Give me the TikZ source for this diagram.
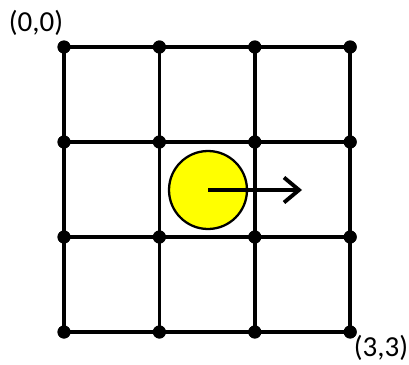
\documentclass[tikz,border=0pt]{standalone}
\usepackage{fontspec}
\setmainfont{Carlito}
\usetikzlibrary{arrows.meta}
\definecolor{Ball}{HTML}{FFFF00}
\tikzset{
  dot/.style={circle,fill=black,draw=none,minimum size=0.26cm,inner sep=0pt},
  gridline/.style={line width=2.1pt,draw=black},
  ball/.style={circle,fill=Ball,draw=black,line width=1.3pt,minimum size=1.56cm,inner sep=0pt},
  move/.style={-{Straight Barb[length=3mm,width=5mm,line width=2.2pt]},line width=2.2pt,draw=black},
  corner/.style={font=\fontsize{16.5}{19}\selectfont,inner sep=0pt}
}
\begin{document}
\begin{tikzpicture}[x=0.02cm,y=-0.02cm]
  \useasboundingbox (0,0) rectangle (409,365);
  % lattice points
  \foreach \i in {0,...,3}
    \foreach \j in {0,...,3}
      \node[dot] (d-\i-\j) at ({64+95.4*\i},{47+95*\j}) {};
  \foreach \k in {0,...,3} {
    \draw[gridline] (d-0-\k.center)--(d-3-\k.center);
    \draw[gridline] (d-\k-0.center)--(d-\k-3.center);
  }
  \foreach \i in {0,...,3}
    \foreach \j in {0,...,3}
      \node[dot] at (d-\i-\j) {};
  % agent and its heading
  \node[ball] (agent) at (208,190) {};
  \coordinate (head) at (302,190);
  \draw[move] (agent.center)--(head);
  % corner labels
  \node[corner] (start) at (36,23) {(0,0)};
  \node[corner] (goal) at (381,348) {(3,3)};
\end{tikzpicture}
\end{document}
